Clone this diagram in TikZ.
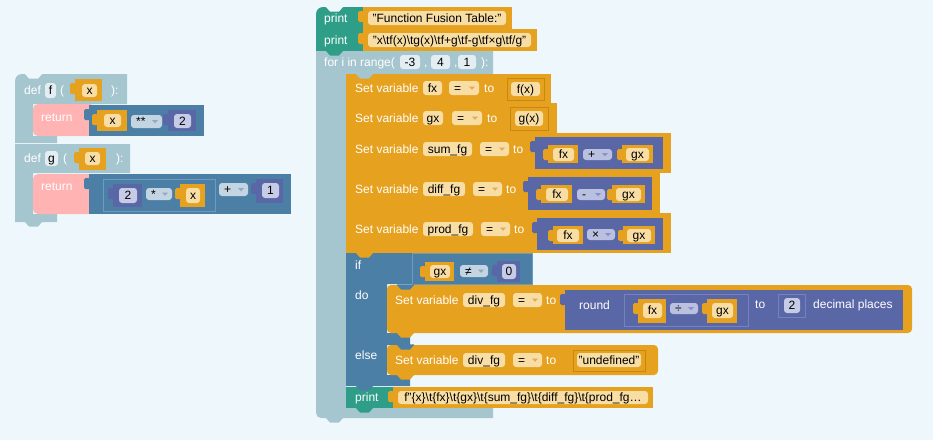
\documentclass[tikz,border=0pt]{standalone}
\usepackage{fontspec}
\setmainfont{Liberation Sans}
\newcommand\fs{\fontsize{12pt}{14pt}\selectfont}
\newcommand\bs{\textbackslash}
\newcounter{nd}
\definecolor{bg}{HTML}{EEF8FC}
\definecolor{gry}{HTML}{A5C5CF}
\definecolor{pnk}{HTML}{FFB3B3}
\definecolor{sbl}{HTML}{4C7FA6}
\definecolor{sbl2}{HTML}{6E9AC0}
\definecolor{ind}{HTML}{5A67A6}
\definecolor{ind2}{HTML}{7682BE}
\definecolor{org}{HTML}{E6A11E}
\definecolor{orgd}{HTML}{C8880F}
\definecolor{tea}{HTML}{2E9E88}
\definecolor{crm}{HTML}{F8DDA4}
\definecolor{arw}{HTML}{E3AC52}
\definecolor{ddb}{HTML}{C3D4E2}
\definecolor{ddba}{HTML}{8FA9C3}
\definecolor{ddi}{HTML}{BAC0E0}
\definecolor{ddia}{HTML}{8790C8}
\definecolor{nfld}{HTML}{C6CBE6}
\definecolor{fgry}{HTML}{E4EEF2}
% white label
\newcommand\lb[3]{\stepcounter{nd}\node[lbl,anchor=west] (L\arabic{nd}) at (#1,#2) {#3};}
% field: x1 y1 x2 y2 fill text
\newcommand\fl[6]{\fill[#5,rounded corners=3pt] (#1,#2) rectangle (#3,#4);
  \stepcounter{nd}\node[lbl,text=black] (F\arabic{nd}) at ({(#1+#3)/2},{(#2+#4)/2}) {#6};}
% dropdown: x1 y1 x2 y2 fill arrow text
\newcommand\dd[7]{\fill[#5,rounded corners=3pt] (#1,#2) rectangle (#3,#4);
  \stepcounter{nd}\node[lbl,text=black,anchor=west] (D\arabic{nd}) at ({#1+5},{(#2+#4)/2}) {#7};
  \fill[#6] ({#3-10},{(#2+#4)/2-1.5}) -- ({#3-4},{(#2+#4)/2-1.5}) -- ({#3-7},{(#2+#4)/2+1.8}) -- cycle;}
% value tab
\newcommand\tb[3]{\fill[#3,rounded corners=1.5pt] ({#1-5},{#2+4}) rectangle ({#1+1},{#2+15});}
% value block
\newcommand\blk[5]{\fill[#5] (#1,#2) rectangle (#3,#4); \tb{#1}{#2}{#5}}
% outlined value block: x1 y1 x2 y2 fill stroke
\newcommand\oblk[6]{\tb{#1}{#2}{#5}\filldraw[fill=#5,draw=#6,line width=0.8pt] (#1,#2) rectangle (#3,#4);}
% notch bump (downward) at block left x, edge y
\newcommand\nt[3]{\fill[#3] ({#1+10},{#2-0.6}) -- ({#1+10},#2) -- ({#1+14},{#2+4.5}) -- ({#1+23},{#2+4.5}) -- ({#1+27},#2) -- ({#1+27},{#2-0.6}) -- cycle;}
\begin{document}
\begin{tikzpicture}[x=1pt,y=-1pt,
  lbl/.style={inner sep=0pt,text height=8.6pt,text depth=0pt,font=\fs,text=white}]
\fill[bg] (0,0) rectangle (933,440);
\useasboundingbox (0,0) rectangle (933,440);

% ================= def f =================
\fill[gry] (15,143) [rounded corners=7pt] -- (15,74) [sharp corners] -- (127,74) -- (127,104) -- (33,104) -- (33,136) -- (57,136) -- (57,143) -- cycle;
\nt{15}{74}{bg}
\lb{24}{90}{def}
\fl{45}{83}{56}{98}{fgry}{f}
\lb{60}{90}{(}
\blk{75}{79}{102}{101}{org}
\fl{82}{84}{97}{97}{crm}{x}
\lb{111}{90}{):}
\fill[pnk,rounded corners=5pt] (33,104) rectangle (95,136);
\lb{41}{117}{return}
\blk{89}{105}{204}{136}{sbl}
\blk{97}{110}{127}{131}{org}
\fl{104}{114}{121}{127}{crm}{x}
\dd{131}{115}{162}{128}{ddb}{ddba}{**}
\blk{168}{110}{196}{131}{ind}
\fl{174}{114}{191}{128}{nfld}{2}

% ================= def g =================
\fill[gry] (15,222) -- (15,144) -- (130,144) -- (130,173) -- (33,173) -- (33,214) -- (57,214) -- (57,222) -- cycle;
\nt{15}{222}{gry}
\lb{24}{158}{def}
\fl{45}{151}{58}{166}{fgry}{g}
\lb{63}{158}{(}
\blk{79}{148}{106}{170}{org}
\fl{85}{152}{100}{165}{crm}{x}
\lb{116}{158}{):}
\fill[pnk,rounded corners=5pt] (33,174) rectangle (95,214);
\lb{41}{186}{return}
\blk{89}{174}{291}{214}{sbl}
\oblk{103}{179}{215}{211}{sbl}{sbl2}
\blk{113}{184}{142}{207}{ind}
\fl{119}{188}{137}{203}{nfld}{2}
\dd{146}{188}{172}{200}{ddb}{ddba}{*}
\blk{180}{184}{205}{207}{org}
\fl{186}{188}{200}{203}{crm}{x}
\dd{219}{183}{248}{196}{ddb}{ddba}{+}
\blk{256}{179}{283}{203}{ind}
\fl{262}{183}{279}{198}{nfld}{1}

% ================= prints at top =================
\fill[tea] (316,29) [rounded corners=7pt] -- (316,7) [sharp corners] -- (363,7) -- (363,29) -- cycle;
\nt{316}{7}{bg}
\lb{324}{18}{print}
\blk{363}{7}{512}{29}{org}
\fl{368}{11}{506}{25}{crm}{"Function Fusion Table:"}
\fill[tea] (316,29) rectangle (363,51);
\lb{324}{40}{print}
\blk{363}{29}{537}{51}{org}
\fl{368}{33}{531}{47}{crm}{"x\bs tf(x)\bs tg(x)\bs tf+g\bs tf-g\bs tf×g\bs tf/g"}

% ================= for =================
\fill[gry] (316,51) -- (493,51) -- (493,74) -- (346,74) -- (346,408) -- (493,408) -- (493,418) [rounded corners=5pt] -- (316,418) [sharp corners] -- cycle;
\nt{316}{51}{tea}
\nt{316}{418}{gry}
\lb{324}{62}{for i in range(}
\fl{400}{55}{420}{69}{fgry}{-3}
\lb{424}{62}{,}
\fl{431}{55}{450}{69}{fgry}{4}
\lb{454}{62}{,}
\fl{458}{55}{476}{69}{fgry}{1}
\lb{481}{62}{):}

% set fx
\fill[org] (346,74) rectangle (551,103);
\nt{346}{74}{gry}
\lb{355}{88}{Set variable}
\fl{423}{81}{442}{95}{crm}{fx}
\dd{449}{81}{479}{95}{crm}{arw}{=}
\lb{484}{88}{to}
\oblk{507}{78}{544}{100}{org}{orgd}
\fl{511}{82}{540}{96}{crm}{f(x)}
% set gx
\fill[org] (346,103) rectangle (557,133);
\lb{355}{118}{Set variable}
\fl{423}{111}{443}{125}{crm}{gx}
\dd{452}{111}{482}{125}{crm}{arw}{=}
\lb{487}{118}{to}
\oblk{510}{107}{548}{130}{org}{orgd}
\fl{515}{111}{543}{126}{crm}{g(x)}
% set sum_fg
\fill[org] (346,133) rectangle (671,173);
\lb{355}{149}{Set variable}
\fl{423}{142}{472}{156}{crm}{sum\_fg}
\dd{480}{142}{509}{156}{crm}{arw}{=}
\lb{513}{149}{to}
\blk{535}{137}{663}{169}{ind}
\blk{548}{145}{578}{163}{org}
\fl{553}{148}{574}{161}{crm}{fx}
\dd{583}{149}{612}{160}{ddi}{ddia}{+}
\blk{622}{145}{653}{163}{org}
\fl{626}{148}{649}{161}{crm}{gx}
% set diff_fg
\fill[org] (346,173) rectangle (660,213);
\lb{355}{189}{Set variable}
\fl{423}{182}{465}{196}{crm}{diff\_fg}
\dd{473}{182}{502}{196}{crm}{arw}{=}
\lb{506}{189}{to}
\blk{528}{177}{652}{210}{ind}
\blk{541}{185}{572}{203}{org}
\fl{546}{188}{568}{201}{crm}{fx}
\dd{577}{189}{605}{200}{ddi}{ddia}{-}
\blk{612}{185}{645}{203}{org}
\fl{616}{188}{641}{201}{crm}{gx}
% set prod_fg
\fill[org] (346,213) rectangle (671,253);
\lb{355}{229}{Set variable}
\fl{423}{222}{473}{236}{crm}{prod\_fg}
\dd{481}{222}{510}{236}{crm}{arw}{=}
\lb{514}{229}{to}
\blk{537}{218}{663}{250}{ind}
\blk{553}{226}{583}{244}{org}
\fl{557}{229}{579}{242}{crm}{fx}
\dd{587}{229}{615}{240}{ddi}{ddia}{×}
\blk{623}{226}{655}{244}{org}
\fl{627}{229}{651}{242}{crm}{gx}

% ================= if =================
\fill[sbl] (346,253) -- (532,253) -- (532,284) -- (387,284) -- (387,333) -- (410,333) -- (410,345) -- (387,345) -- (387,375) -- (410,375) -- (410,386) -- (346,386) -- cycle;
\nt{346}{253}{org}
\oblk{412}{253.5}{532}{284}{sbl}{sbl2}
\lb{355}{265}{if}
\lb{355}{295}{do}
\lb{355}{355}{else}
\blk{425}{262}{454}{281}{org}
\fl{430}{265}{450}{278}{crm}{gx}
\dd{460}{265}{488}{277}{ddb}{ddba}{≠}
\blk{497}{261}{520}{282}{ind}
\fl{502}{264}{516}{279}{nfld}{0}

% do: set div_fg = round(...)
\fill[org,rounded corners=4pt] (387,285) rectangle (912,333);
\nt{387}{285}{sbl}
\lb{395}{300}{Set variable}
\fl{463}{293}{505}{307}{crm}{div\_fg}
\dd{513}{293}{542}{307}{crm}{arw}{=}
\lb{546}{300}{to}
\blk{565}{290}{903}{330}{ind}
\lb{579}{305}{round}
\oblk{624}{294}{748}{326}{ind}{ind2}
\blk{638}{299}{666}{323}{org}
\fl{643}{303}{662}{318}{crm}{fx}
\dd{670}{303}{698}{314}{ddi}{ddia}{÷}
\blk{707}{299}{737}{323}{org}
\fl{712}{303}{733}{318}{crm}{gx}
\lb{755}{304}{to}
\oblk{778}{294}{805}{317}{ind}{ind2}
\fl{784}{298}{800}{313}{nfld}{2}
\lb{813}{304}{decimal places}
\nt{387}{333}{org}

% else: set div_fg = "undefined"
\fill[org,rounded corners=4pt] (387,345) rectangle (658,375);
\nt{387}{345}{sbl}
\lb{395}{360}{Set variable}
\fl{463}{353}{505}{367}{crm}{div\_fg}
\dd{513}{353}{542}{367}{crm}{arw}{=}
\lb{546}{360}{to}
\oblk{573}{350}{645}{371}{org}{orgd}
\fl{577}{353}{641}{367}{crm}{"undefined"}
\nt{387}{375}{org}

% print row
\fill[tea] (346,387) rectangle (393,408);
\nt{346}{386}{sbl}
\lb{355}{397}{print}
\blk{393}{387}{653}{408}{org}
\fl{398}{391}{648}{404}{crm}{f"\{x\}\bs t\{fx\}\bs t\{gx\}\bs t\{sum\_fg\}\bs t\{diff\_fg\}\bs t\{prod\_fg…}
\nt{346}{408}{tea}
\end{tikzpicture}
\end{document}
